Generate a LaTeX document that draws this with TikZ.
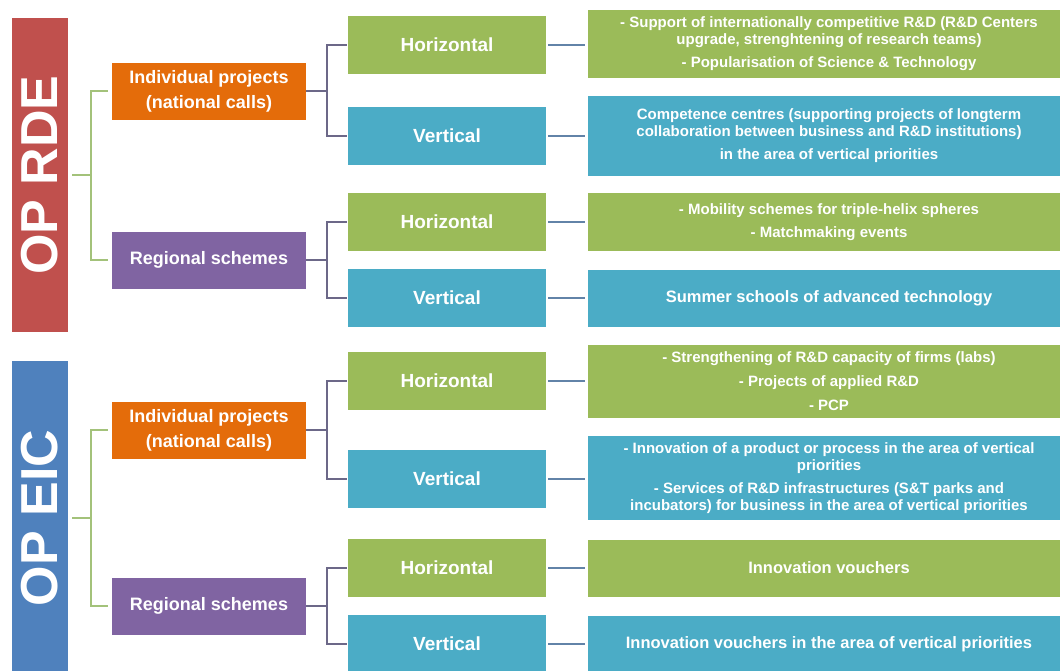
\documentclass[tikz,border=0pt]{standalone}
\usepackage{fontspec}
\setmainfont{Liberation Sans}
\usepackage{tikz}
\tikzset{>=latex}

\definecolor{rdered}{HTML}{C0504D}
\definecolor{eicblue}{HTML}{4F81BD}
\definecolor{iporange}{HTML}{E46C0A}
\definecolor{rspurple}{HTML}{8064A2}
\definecolor{hgreen}{HTML}{9BBB59}
\definecolor{vteal}{HTML}{4BACC6}
\definecolor{glinecol}{HTML}{A3C27A}
\definecolor{plinecol}{HTML}{6C6888}
\definecolor{blinecol}{HTML}{6283A8}

\tikzset{
  box/.style={inner sep=0pt, text=white, align=center},
  opbar/.style={box, minimum width=56pt, minimum height=314pt,
    font=\fontsize{52}{52}\selectfont\bfseries},
  prog/.style={box, minimum width=194pt, minimum height=57pt,
    font=\fontsize{18}{25}\selectfont\bfseries},
  kind/.style={box, minimum width=198pt, minimum height=58pt,
    font=\fontsize{19}{22}\selectfont\bfseries},
  hkind/.style={kind, fill=hgreen},
  vkind/.style={kind, fill=vteal},
  detail/.style={box, minimum width=482pt,
    font=\fontsize{15}{17}\selectfont\bfseries},
  bigdetail/.style={detail, font=\fontsize{16.5}{19}\selectfont\bfseries},
  glink/.style={glinecol, line width=2pt},
  plink/.style={plinecol, line width=2pt},
  blink/.style={blinecol, line width=2.5pt}
}

\begin{document}
\begin{tikzpicture}[x=1pt,y=-1pt]
            \useasboundingbox (0,0) rectangle (1060,670);
            % operational programmes
            \node[opbar, fill=rdered] (rde) at (40,175) {\rotatebox{90}{OP RDE}};
            \node[opbar, fill=eicblue] (eic) at (40,518) {\rotatebox{90}{OP EIC}};
            % types of calls
            \node[prog, fill=iporange] (ipr) at (209,91) {Individual projects\\(national calls)};
            \node[prog, fill=rspurple] (rsr) at (209,260) {Regional schemes};
            \node[prog, fill=iporange] (ipe) at (209,430) {Individual projects\\(national calls)};
            \node[prog, fill=rspurple] (rse) at (209,606) {Regional schemes};
            % horizontal / vertical
            \node[hkind] (k1) at (447,45) {Horizontal};
            \node[vkind] (k2) at (447,136) {Vertical};
            \node[hkind] (k3) at (447,222) {Horizontal};
            \node[vkind] (k4) at (447,298) {Vertical};
            \node[hkind] (k5) at (447,381) {Horizontal};
            \node[vkind] (k6) at (447,479) {Vertical};
            \node[hkind] (k7) at (447,568) {Horizontal};
            \node[vkind] (k8) at (447,644) {Vertical};
            % measures
            \node[detail, fill=hgreen, minimum height=68pt] (d1) at (829,44)
                {- Support of internationally competitive R\&D (R\&D Centers\\
                 upgrade, strenghtening of research teams)\\[6pt]
                 - Popularisation of Science \& Technology};
            \node[detail, fill=vteal, minimum height=80pt] (d2) at (829,136)
                {Competence centres (supporting projects of longterm\\
                 collaboration between business and R\&D institutions)\\[6pt]
                 in the area of vertical priorities};
            \node[detail, fill=hgreen, minimum height=58pt] (d3) at (829,222)
                {- Mobility schemes for triple-helix spheres\\[6pt]
                 - Matchmaking events};
            \node[bigdetail, fill=vteal, minimum height=57pt] (d4) at (829,298)
                {Summer schools of advanced technology};
            \node[detail, fill=hgreen, minimum height=73pt] (d5) at (829,381)
                {- Strengthening of R\&D capacity of firms (labs)\\[7pt]
                 - Projects of applied R\&D\\[7pt]
                 - PCP};
            \node[detail, fill=vteal, minimum height=84pt] (d6) at (829,478)
                {- Innovation of a product or process in the area of vertical\\
                 priorities\\[6pt]
                 - Services of R\&D infrastructures (S\&T parks and\\
                 incubators) for business in the area of vertical priorities};
            \node[bigdetail, fill=hgreen, minimum height=57pt] (d7) at (829,568)
                {Innovation vouchers};
            \node[bigdetail, fill=vteal, minimum height=57pt] (d8) at (829,644)
                {Innovation vouchers in the area of vertical priorities};
            % programme brackets
            \coordinate (rdej) at (91,175);
            \coordinate (eicj) at (91,518);
            \draw[glink, shorten <=4pt] (rde.east) -- (rdej);
            \draw[glink, shorten >=4pt] (rdej) |- (ipr.west);
            \draw[glink, shorten >=4pt] (rdej) |- (rsr.west);
            \draw[glink, shorten <=4pt] (eic.east |- eicj) -- (eicj);
            \draw[glink, shorten >=4pt] (eicj) |- (ipe.west);
            \draw[glink, shorten >=4pt] (eicj) |- (rse.west);
            % call brackets
            \foreach \p/\a/\b in {ipr/k1/k2, rsr/k3/k4, ipe/k5/k6, rse/k7/k8} {
                \draw[plink] (\p.east) -- ++(21,0) coordinate (\p-j);
                \draw[plink, shorten >=1pt] (\p-j) |- (\a.west);
                \draw[plink, shorten >=1pt] (\p-j) |- (\b.west);
            }
            \foreach \i in {1,...,8}
                \draw[blink, shorten <=2pt, shorten >=3pt] (k\i.east) -- (k\i.east -| d\i.west);
        \end{tikzpicture}
\end{document}
